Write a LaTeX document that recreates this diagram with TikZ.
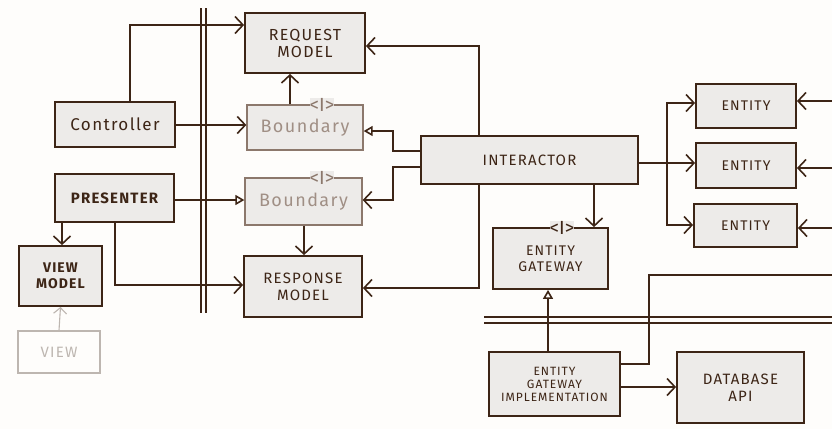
\documentclass[tikz,border=0pt]{standalone}
\usepackage{fontspec}
\setmainfont{Fira Sans}
\newfontfamily\hand[LetterSpace=8]{Fira Sans}
\usetikzlibrary{arrows.meta}
\definecolor{ink}{HTML}{3D2516}
\definecolor{lightink}{HTML}{8C786C}
\definecolor{lighttext}{HTML}{A08F85}
\definecolor{faint}{HTML}{BDB6B0}
\definecolor{boxfill}{HTML}{EDEBE9}
\definecolor{paper}{HTML}{FEFDFB}
\newcommand{\fs}[1]{\hand\fontsize{#1}{#1}\selectfont}
\tikzset{
  box/.style={draw=ink, line width=1.8pt, fill=boxfill, text=ink, align=center, inner sep=2pt},
  softbox/.style={draw=lightink, line width=1.3pt, fill=boxfill, text=lighttext, align=center, inner sep=2pt},
  faintbox/.style={draw=faint, line width=1.1pt, fill=paper, text=faint, align=center, inner sep=2pt},
  conn/.style={draw=ink, line width=1.4pt},
  barb/.style={conn, -{Straight Barb[length=8pt,width=17pt,line width=1.6pt]}},
  tri/.style={conn, -{Triangle[open,length=9pt,width=10pt,line width=1.6pt]}},
  iface/.style={fill=boxfill, text=ink, inner sep=0pt, font=\fontsize{19}{19}\selectfont},
  sep/.style={draw=ink, line width=1.4pt},
}
\begin{document}
\begin{tikzpicture}[x=1pt,y=-1pt]
\fill[paper] (0,0) rectangle (832,429);
\useasboundingbox (0,0) rectangle (832,429);
% separators
\draw[sep] (201,8) -- (201,313);
\draw[sep] (206,8) -- (206,313);
\draw[sep] (484,317) -- (832,317);
\draw[sep] (484,323) -- (832,323);
% nodes
\node[box, minimum width=120, minimum height=60, font=\fs{16}] (req) at (305,43) {REQUEST\\[1pt]MODEL};
\node[softbox, minimum width=116, minimum height=45, font=\fs{18}] (bnd1) at (305,127.5) {Boundary};
\node[box, minimum width=120, minimum height=45, font=\fs{17}] (ctrl) at (115,124.5) {Controller};
\node[box, minimum width=119, minimum height=48, font=\bfseries\fs{15}] (pres) at (114.5,198) {PRESENTER};
\node[softbox, minimum width=117, minimum height=47, font=\fs{18}] (bnd2) at (303.5,201.5) {Boundary};
\node[box, minimum width=83, minimum height=60, font=\bfseries\fs{14}] (vm) at (60.5,276) {VIEW\\[2pt]MODEL};
\node[faintbox, minimum width=82, minimum height=42, font=\fs{15}] (view) at (59,352) {VIEW};
\node[box, minimum width=118, minimum height=61, font=\fs{15}] (resp) at (303,286.5) {RESPONSE\\[2pt]MODEL};
\node[box, minimum width=217, minimum height=48, font=\fs{15}] (inter) at (529.5,160) {INTERACTOR};
\node[box, minimum width=100, minimum height=44, font=\fs{14}] (ent1) at (746,106) {ENTITY};
\node[box, minimum width=100, minimum height=45, font=\fs{14}] (ent2) at (746,165.5) {ENTITY};
\node[box, minimum width=103, minimum height=43, font=\fs{14}] (ent3) at (745.5,225.5) {ENTITY};
\node[box, minimum width=115, minimum height=61, font=\fs{14}] (gw) at (550.5,258.5) {ENTITY\\[2pt]GATEWAY};
\node[box, minimum width=131, minimum height=64, font=\fs{12}] (gwi) at (554.5,384) {ENTITY\\[1pt]GATEWAY\\[1pt]IMPLEMENTATION};
\node[box, minimum width=127, minimum height=71, font=\fs{15}] (db) at (740.5,387.5) {DATABASE\\[2pt]API};
% interface markers
\node[iface, text=lightink] (i1) at (322,105) {<I>};
\node[iface, text=lightink] (i2) at (322,178) {<I>};
\node[iface] (i3) at (562,228) {<I>};
% helper coordinates
\coordinate (c1) at (130,25);
\coordinate (c2) at (125,125);
\coordinate (c3) at (290,0);
\coordinate (c4) at (479,46);
\coordinate (c5a) at (393,151);
\coordinate (c5b) at (393,131);
\coordinate (c6a) at (393,167);
\coordinate (c6b) at (393,200);
\coordinate (c8) at (62,0);
\coordinate (c9) at (115,285);
\coordinate (c10) at (304,0);
\coordinate (c11) at (479,288);
\coordinate (c12) at (594,0);
\coordinate (c13) at (667,163);
\coordinate (c14a) at (667,103);
\coordinate (c14b) at (667,225);
\coordinate (r1) at (832,101);
\coordinate (r2) at (832,168);
\coordinate (r3) at (832,228);
\coordinate (c16) at (548,0);
\coordinate (c17a) at (649,364);
\coordinate (c17b) at (649,275);
\coordinate (r4) at (832,275);
\coordinate (c18) at (0,387);
% connectors
\draw[barb] (ctrl.north -| c1) |- (req.west |- c1);
\draw[barb] (ctrl.east |- c2) -- (bnd1.west |- c2);
\draw[barb] (bnd1.north -| c3) -- (req.south -| c3);
\draw[barb] (inter.north -| c4) |- (req.east |- c4);
\draw[tri] (inter.west |- c5a) -- (c5a) -- (c5b) -- (bnd1.east |- c5b);
\draw[barb] (inter.west |- c6a) -- (c6a) -- (c6b) -- (bnd2.east |- c6b);
\draw[tri] (pres.east |- c6b) -- (bnd2.west |- c6b);
\draw[barb] (pres.south -| c8) -- (vm.north -| c8);
\draw[barb] (pres.south -| c9) |- (resp.west |- c9);
\draw[barb] (bnd2.south -| c10) -- (resp.north -| c10);
\draw[barb] (inter.south -| c11) |- (resp.east |- c11);
\draw[barb] (inter.south -| c12) -- (gw.north -| c12);
\draw[barb] (inter.east |- c13) -- (ent2.west |- c13);
\draw[barb] (c13) -- (c14a) -- (ent1.west |- c14a);
\draw[barb] (c13) -- (c14b) -- (ent3.west |- c14b);
\draw[barb] (r1) -- (ent1.east |- r1);
\draw[barb] (r2) -- (ent2.east |- r2);
\draw[barb] (r3) -- (ent3.east |- r3);
\draw[tri] (gwi.north -| c16) -- (gw.south -| c16);
\draw[conn] (gwi.east |- c17a) -- (c17a) -- (c17b) -- (r4);
\draw[barb] (gwi.east |- c18) -- (db.west |- c18);
\draw[draw=faint, line width=1.1pt, -{Straight Barb[length=6pt,width=13pt,line width=1.1pt]}] (view.north) -- (vm.south);
\end{tikzpicture}
\end{document}
